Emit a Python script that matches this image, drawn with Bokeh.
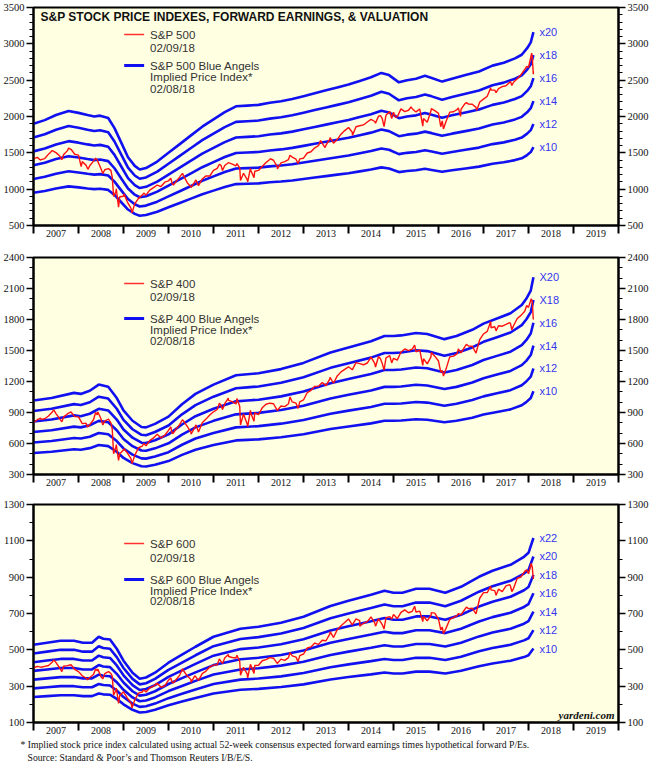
import numpy as np
from bokeh.plotting import figure
from bokeh.models import Range1d, FixedTicker, LinearAxis, Title
from bokeh.layouts import column
from bokeh.embed import file_html
from bokeh.resources import INLINE
from bokeh.core.properties import value

# ---------------- data ----------------
YEARS = list(range(2007, 2020))
YEAR_LABELS = [str(y) for y in YEARS]

# month-end closes, Dec 2006 .. Jan 2018
SPX_MONTHLY = [
    1418,
    1438, 1407, 1421, 1482, 1531, 1503, 1455, 1474, 1527, 1549, 1481, 1468,
    1379, 1331, 1323, 1386, 1400, 1280, 1267, 1283, 1166, 969, 896, 903,
    826, 735, 798, 873, 919, 919, 987, 1021, 1057, 1036, 1096, 1115,
    1074, 1104, 1169, 1187, 1089, 1031, 1102, 1049, 1141, 1183, 1181, 1258,
    1286, 1327, 1326, 1364, 1345, 1321, 1292, 1219, 1131, 1253, 1247, 1258,
    1312, 1366, 1408, 1398, 1310, 1362, 1379, 1407, 1441, 1412, 1416, 1426,
    1498, 1515, 1569, 1598, 1631, 1606, 1686, 1633, 1682, 1757, 1806, 1848,
    1783, 1859, 1872, 1884, 1924, 1960, 1931, 2003, 1972, 2018, 2068, 2059,
    1995, 2105, 2068, 2086, 2107, 2063, 2104, 1972, 1920, 2079, 2080, 2044,
    1940, 1932, 2060, 2065, 2097, 2099, 2174, 2171, 2168, 2126, 2199, 2239,
    2279, 2364, 2363, 2384, 2412, 2423, 2470, 2472, 2519, 2575, 2648, 2674,
    2824]
# intra-month highs and lows
SPX_XTRA_DATES = [2007.16, 2007.63, 2007.78, 2008.06, 2008.21, 2008.38, 2008.54, 2008.72,
                  2008.78, 2008.84, 2008.89, 2009.01, 2009.19, 2009.45, 2010.05, 2010.11,
                  2010.31, 2010.5, 2010.61, 2011.13, 2011.2, 2011.33, 2011.52, 2011.6, 2011.76,
                  2011.82, 2011.9, 2012.26, 2012.42, 2012.7, 2012.88, 2013.38, 2013.48,
                  2013.59, 2014.09, 2014.6, 2014.71, 2014.79, 2014.96, 2015.04, 2015.39,
                  2015.65, 2015.84, 2016.05, 2016.11, 2016.44, 2016.49, 2016.62, 2016.85,
                  2017.16, 2017.28, 2017.6, 2017.63, 2017.96, 2018.07, 2018.107, 2018.11]
SPX_XTRA = [1399, 1406, 1565, 1310, 1273, 1426, 1214, 1255, 899, 1005, 752, 935, 676, 946,
            1150, 1056, 1217, 1022, 1127, 1343, 1256, 1363, 1353, 1119, 1099, 1285, 1159, 1419,
            1278, 1466, 1353, 1669, 1573, 1709, 1741, 1909, 2011, 1862, 1972, 1992, 2131,
            1867, 2109, 1859, 1829, 2119, 2001, 2190, 2085, 2396, 2329, 2480, 2426, 2690,
            2873, 2581, 2620]

MID_MONTHLY = [
    804,
    830, 833, 839, 866, 905, 890, 838, 855, 886, 905, 860, 858,
    792, 797, 782, 830, 877, 840, 817, 837, 736, 570, 501, 538,
    509, 453, 485, 559, 575, 578, 628, 654, 690, 654, 680, 727,
    697, 739, 785, 820, 766, 707, 753, 711, 801, 836, 876, 907,
    929, 970, 985, 1018, 1005, 982, 958, 885, 787, 889, 897, 880,
    945, 980, 990, 985, 920, 963, 957, 985, 1002, 990, 1003, 1021,
    1093, 1115, 1153, 1155, 1190, 1160, 1222, 1183, 1254, 1293, 1318, 1342,
    1313, 1383, 1373, 1362, 1379, 1436, 1375, 1442, 1375, 1428, 1450, 1424,
    1407, 1485, 1515, 1499, 1514, 1487, 1505, 1420, 1370, 1439, 1445, 1398,
    1308, 1320, 1438, 1445, 1470, 1478, 1535, 1544, 1541, 1475, 1606, 1660,
    1685, 1720, 1730, 1740, 1735, 1752, 1770, 1740, 1810, 1840, 1880, 1917,
    1975]
MID_XTRA_DATES = [2007.16, 2007.45, 2007.63, 2008.2, 2008.38, 2008.43, 2008.54, 2008.72,
                  2008.78, 2008.84, 2008.89, 2009.01, 2009.19, 2009.45, 2010.05, 2010.11,
                  2010.31, 2010.5, 2010.61, 2011.13, 2011.2, 2011.33, 2011.52, 2011.6, 2011.76,
                  2011.82, 2011.9, 2012.7, 2012.88, 2013.59, 2014.6, 2014.71, 2014.79,
                  2014.96, 2015.47, 2015.65, 2015.84, 2016.05, 2016.11, 2016.44, 2016.62,
                  2017.16, 2017.28, 2017.6, 2017.63, 2017.96, 2018.06, 2018.107, 2018.11]
MID_XTRA = [845, 926, 810, 760, 900, 905, 780, 800, 500, 590, 437, 550, 405, 600, 760, 700,
            830, 690, 780, 990, 930, 1040, 1035, 780, 764, 920, 815, 1050, 940, 1240, 1340,
            1420, 1310, 1380, 1552, 1356, 1480, 1290, 1252, 1515, 1560, 1780, 1690, 1760,
            1700, 1935, 2000, 1800, 1810]

SML_MONTHLY = [
    400,
    409, 404, 409, 414, 432, 430, 400, 410, 413, 418, 392, 380,
    357, 345, 348, 364, 385, 352, 369, 380, 355, 279, 249, 269,
    236, 207, 224, 262, 268, 268, 290, 300, 316, 294, 302, 333,
    320, 335, 361, 385, 357, 336, 357, 332, 369, 383, 405, 416,
    418, 437, 455, 463, 458, 455, 436, 404, 366, 413, 414, 415,
    440, 446, 457, 454, 425, 449, 442, 457, 467, 460, 468, 477,
    510, 516, 537, 530, 553, 550, 586, 568, 611, 633, 650, 670,
    638, 670, 661, 646, 655, 681, 648, 671, 639, 677, 683, 695,
    672, 706, 720, 704, 712, 708, 713, 683, 660, 690, 702, 669,
    625, 618, 667, 677, 690, 692, 722, 727, 729, 698, 784, 815,
    815, 830, 826, 834, 820, 852, 859, 837, 894, 901, 932, 919,
    955]
SML_XTRA_DATES = [2007.16, 2007.45, 2007.63, 2008.2, 2008.38, 2008.43, 2008.54, 2008.72,
                  2008.78, 2008.84, 2008.89, 2009.01, 2009.19, 2009.45, 2010.05, 2010.11,
                  2010.31, 2010.5, 2010.61, 2011.13, 2011.2, 2011.33, 2011.52, 2011.6, 2011.76,
                  2011.82, 2011.9, 2012.7, 2012.88, 2013.59, 2014.25, 2014.6, 2014.79,
                  2014.96, 2015.47, 2015.65, 2015.84, 2016.05, 2016.11, 2016.44, 2016.62,
                  2017.16, 2017.28, 2017.6, 2017.63, 2017.96, 2018.06, 2018.107, 2018.11]
SML_XTRA = [405, 445, 380, 335, 395, 395, 340, 370, 250, 290, 205, 265, 181, 280, 345, 318,
            395, 320, 350, 450, 425, 475, 470, 360, 346, 420, 370, 485, 435, 600, 630, 630,
            615, 670, 740, 655, 705, 610, 589, 700, 735, 850, 800, 850, 820, 940, 975, 890,
            900]

# forward earnings
SPX_E_DATES = [2007.0, 2007.25, 2007.5, 2007.78, 2008.0, 2008.2, 2008.35, 2008.48, 2008.66,
               2008.8, 2008.95, 2009.1, 2009.25, 2009.36, 2009.5, 2009.75, 2010.0, 2010.25,
               2010.5, 2010.75, 2011.0, 2011.25, 2011.5, 2011.75, 2012.0, 2012.25, 2012.5,
               2012.75, 2013.0, 2013.25, 2013.5, 2013.75, 2014.0, 2014.25, 2014.5, 2014.73,
               2014.9, 2015.12, 2015.3, 2015.5, 2015.7, 2015.85, 2016.08, 2016.3, 2016.6,
               2016.9, 2017.2, 2017.45, 2017.7, 2017.85, 2017.97, 2018.05, 2018.11]
SPX_E = [95.0, 97.5, 101.0, 103.8, 102.5, 101.0, 100.0, 100.6, 99.0, 92.0, 82.0, 72.0, 66.0,
         63.5, 64.5, 69.0, 75.0, 81.0, 87.0, 93.0, 98.0, 103.0, 107.0, 107.5, 108.0, 109.5,
         110.5, 112.0, 114.0, 116.0, 118.0, 120.0, 122.0, 124.5, 127.0, 130.0, 128.5, 123.5,
         125.0, 126.0, 128.0, 126.5, 124.0, 126.0, 128.5, 131.0, 135.0, 137.0, 140.0, 142.5,
         147.0, 151.0, 158.0]

MID_E_DATES = [2007.0, 2007.4, 2007.9, 2008.05, 2008.25, 2008.45, 2008.66, 2008.85, 2009.0,
               2009.2, 2009.4, 2009.5, 2009.7, 2010.0, 2010.3, 2010.6, 2011.0, 2011.5, 2011.75,
               2012.0, 2012.5, 2013.0, 2013.6, 2014.0, 2014.5, 2014.8, 2015.0, 2015.17, 2015.5,
               2015.75, 2016.13, 2016.4, 2016.75, 2017.0, 2017.3, 2017.6, 2017.85, 2017.95,
               2018.05, 2018.11]
MID_E = [50.8, 52.0, 54.5, 54.0, 55.5, 58.5, 57.5, 52.0, 46.0, 41.0, 38.0, 37.8, 39.5, 43.0,
         49.0, 54.0, 58.5, 63.0, 63.5, 64.0, 66.0, 69.0, 74.0, 76.5, 79.5, 82.0, 82.0, 82.3,
         83.5, 83.0, 80.5, 82.0, 85.0, 88.0, 90.5, 93.0, 97.0, 100.0, 104.0, 110.5]

SML_E_DATES = [2007.0, 2007.3, 2007.6, 2007.9, 2008.1, 2008.3, 2008.45, 2008.55, 2008.7,
               2008.85, 2009.0, 2009.2, 2009.36, 2009.5, 2009.7, 2010.0, 2010.3, 2010.6,
               2011.0, 2011.6, 2012.0, 2012.5, 2013.0, 2013.6, 2014.0, 2014.5, 2014.8, 2015.0,
               2015.2, 2015.5, 2015.8, 2016.15, 2016.5, 2016.9, 2017.2, 2017.6, 2017.9,
               2018.0, 2018.11]
SML_E = [24.0, 24.5, 25.0, 25.0, 24.5, 24.5, 26.0, 25.5, 25.3, 23.0, 20.0, 17.0, 15.5, 15.8,
         17.0, 19.5, 21.5, 23.5, 26.0, 28.0, 28.5, 29.5, 31.0, 33.7, 35.0, 36.5, 37.5, 37.0,
         37.0, 38.0, 38.0, 37.0, 38.5, 41.0, 42.5, 44.0, 46.0, 47.0, 50.7]

MULT_A = [10, 12, 14, 16, 18, 20]
MULT_A_LABELS = ["x10", "x12", "x14", "x16", "x18", "x20"]
MULT_B_LABELS = ["x10", "x12", "x14", "x16", "X18", "X20"]
MULT_C = [10, 12, 14, 16, 18, 20, 22]
MULT_C_LABELS = ["x10", "x12", "x14", "x16", "x18", "x20", "x22"]

TITLE = "S&P STOCK PRICE INDEXES, FORWARD EARNINGS, & VALUATION"
FOOT1 = "* Implied stock price index calculated using actual 52-week consensus expected forward earnings times hypothetical forward P/Es."
FOOT2 = "Source: Standard & Poor\u2019s and Thomson Reuters I/B/E/S."

# ---------------- styling ----------------
BG = "#FFFFE2"
BLUE = "#1010F0"
BLUE_TXT = "#3535F0"
RED = "#FF1010"
SANS = "Liberation Sans"
SERIF = "Liberation Serif"
X0, X1 = 2007, 2020
LEFT, RIGHT, FW = 31, 33, 587


def merge_price(monthly, xd, xv):
    d = [2007 + i / 12.0 for i in range(len(monthly))] + list(xd)
    v = list(monthly) + list(xv)
    order = np.argsort(d, kind="stable")
    return [d[i] for i in order], [v[i] for i in order]


def make_panel(name, e_dates, e_vals, monthly, xd, xv, mults, mlabels, ylo, yhi, step,
               minor, height, top, bottom, leg, title=False, credit=False):
    p = figure(width=651, height=height, x_range=Range1d(X0, X1), y_range=Range1d(ylo, yhi),
               output_backend="svg", toolbar_location=None,
               min_border_left=LEFT, min_border_right=RIGHT,
               min_border_top=top, min_border_bottom=bottom,
               background_fill_color=BG, border_fill_color="white",
               outline_line_color="black", outline_line_width=2)
    p.grid.visible = False

    # x axis: labels centred between year ticks
    xt = FixedTicker(ticks=[y + 0.5 for y in YEARS], minor_ticks=list(range(X0, X1 + 1)))
    xa = p.xaxis[0]
    xa.ticker = xt
    xa.major_label_overrides = {y + 0.5: lab for y, lab in zip(YEARS, YEAR_LABELS)}
    xa.major_tick_line_color = None
    xa.major_tick_out = 0
    xa.major_tick_in = 0
    xa.minor_tick_in = 0
    xa.minor_tick_out = 8
    xa.minor_tick_line_width = 2
    xa.minor_tick_line_color = "black"
    xa.axis_line_width = 2
    xa.major_label_standoff = -4
    xa.major_label_text_font = SERIF
    xa.major_label_text_font_size = "10px"
    xa.major_label_text_color = "#111111"

    yt = FixedTicker(ticks=list(range(ylo, yhi + 1, step)),
                     minor_ticks=list(range(ylo, yhi + 1, minor)))
    ra = LinearAxis()
    p.add_layout(ra, "right")
    for ax in (p.yaxis[0], ra):
        ax.ticker = yt
        ax.major_tick_in = 0
        ax.major_tick_out = 7
        ax.minor_tick_in = 0
        ax.minor_tick_out = 4
        ax.axis_line_width = 2
        ax.major_tick_line_width = 1.5
        ax.minor_tick_line_width = 1
        ax.major_label_standoff = 2
        ax.major_label_text_font = SERIF
        ax.major_label_text_font_size = "10.5px"
        ax.major_label_text_color = "#111111"

    # Blue Angels lines
    for m in mults:
        p.line(e_dates, [m * e for e in e_vals], line_color=BLUE, line_width=2.6)
    ends_y = [m * e_vals[-1] for m in mults]
    p.text(x=[e_dates[-1]] * len(mults), y=ends_y, text=mlabels, x_offset=6,
           text_baseline="middle", text_align="left", text_font=value(SANS),
           text_font_size="11px", text_color=BLUE_TXT)

    # price line
    pd_, pv_ = merge_price(monthly, xd, xv)
    p.line(pd_, pv_, line_color=RED, line_width=1.4)

    # legend (positions in frame pixels)
    def fx(px):
        return X0 + (px - LEFT) / FW * (X1 - X0)
    fh = height - top - bottom

    def fy(py):  # py: pixels below the frame top
        return yhi - py / fh * (yhi - ylo)

    r_y, d1_y, b_y, t2_y, t3_y = leg
    p.segment(x0=[fx(122)], y0=[fy(r_y)], x1=[fx(142)], y1=[fy(r_y)], line_color="#FF3030",
              line_width=1.5)
    p.segment(x0=[fx(122)], y0=[fy(b_y)], x1=[fx(142)], y1=[fy(b_y)], line_color=BLUE,
              line_width=3)
    p.text(x=[fx(148)] * 5, y=[fy(r_y), fy(d1_y), fy(b_y), fy(t2_y), fy(t3_y)],
           text=[name, "02/09/18", name + " Blue Angels", "Implied Price Index*", "02/08/18"],
           text_baseline="middle", text_font=value(SANS), text_font_size="11.5px",
           text_color="#333333")
    if title:
        p.text(x=[fx(38)], y=[fy(9.5)], text=[TITLE], text_baseline="middle",
               text_font=value(SANS), text_font_style="bold", text_font_size="12px",
               text_color="#111111")
    if credit:
        p.text(x=[fx(614)], y=[fy(fh - 8)], text=["yardeni.com"], text_baseline="middle",
               text_align="right", text_font=value(SERIF), text_font_style="bold italic",
               text_font_size="11px", text_color="#111111")
    return p


p1 = make_panel("S&P 500", SPX_E_DATES, SPX_E, SPX_MONTHLY, SPX_XTRA_DATES, SPX_XTRA,
                MULT_A, MULT_A_LABELS, 500, 3500, 500, 100, 250, 7, 25,
                (27, 40, 58, 69, 81), title=True)
p2 = make_panel("S&P 400", MID_E_DATES, MID_E, MID_MONTHLY, MID_XTRA_DATES, MID_XTRA,
                MULT_A, MULT_B_LABELS, 300, 2400, 300, 100, 250, 7, 26,
                (26, 39, 61, 72, 83))
p3 = make_panel("S&P 600", SML_E_DATES, SML_E, SML_MONTHLY, SML_XTRA_DATES, SML_XTRA,
                MULT_C, MULT_C_LABELS, 100, 1300, 200, 100, 277, 4, 55,
                (39, 53, 75, 86, 96), credit=True)

t2 = Title(text=FOOT2, text_font=SERIF, text_font_size="9.7px", text_font_style="normal",
           align="left", offset=-6, standoff=0, text_color="#111111")
t1 = Title(text=FOOT1, text_font=SERIF, text_font_size="9.7px", text_font_style="normal",
           align="left", offset=-13, standoff=0, text_color="#111111")
p3.add_layout(t1, "below")
p3.add_layout(t2, "below")

layout = column(p1, p2, p3, spacing=0)
open("out.html", "w").write(file_html(layout, INLINE))
